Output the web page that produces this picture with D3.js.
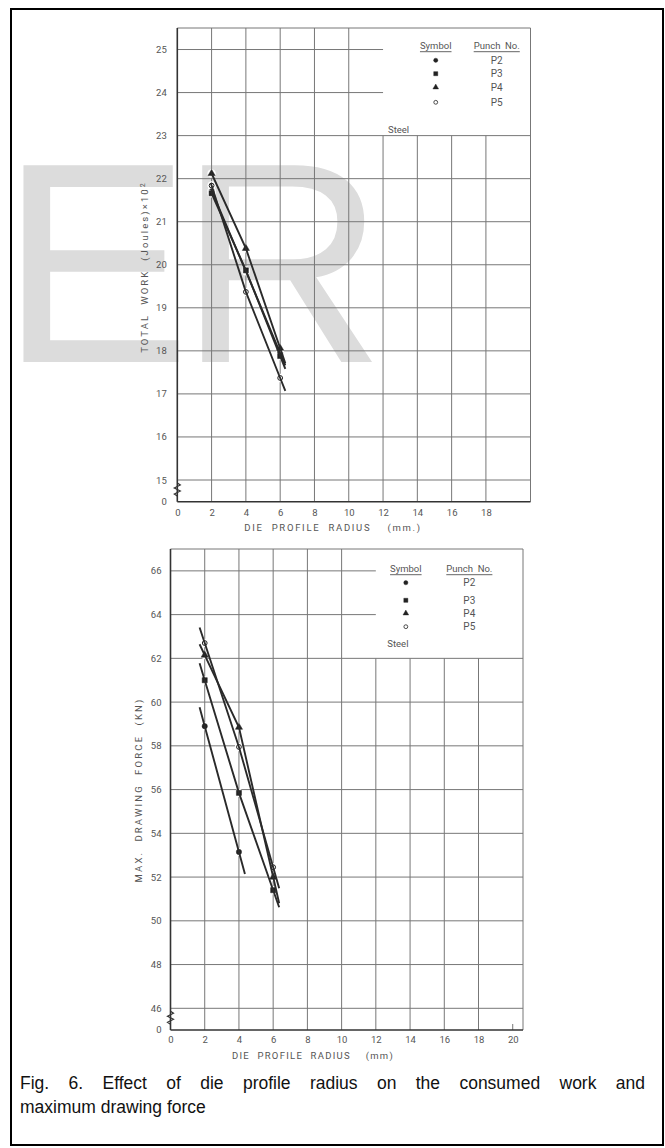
<!DOCTYPE html>
<html>
<head>
<script src="https://d3js.org/d3.v7.min.js"></script>
<style>
body { margin: 0; background: #fff; }
svg text { font-family: Roboto, "Noto Sans", sans-serif; }
</style>
</head>
<body>
<script>
var W = 665, H = 1148;

// die profile radius (mm) at which each punch was tested
var radius = [2, 4, 6];
var punches = ['P2', 'P3', 'P4', 'P5'];
var kinds = ['dot', 'square', 'triangle', 'ring'];

// total work (Joules x 10^2)
var workP2 = [21.72, 19.85, 17.95];
var workP3 = [21.66, 19.87, 17.88];
var workP4 = [22.12, 20.38, 18.06];
var workP5 = [21.84, 19.37, 17.37];

// max drawing force (kN)
var forceP2 = [58.9, 53.15];
var forceP3 = [61.0, 55.85, 51.4];
var forceP4 = [62.15, 58.85, 52.0];
var forceP5 = [62.7, 57.95, 52.45];

var xTicksWork = [0, 2, 4, 6, 8, 10, 12, 14, 16, 18];
var yTicksWork = [15, 16, 17, 18, 19, 20, 21, 22, 23, 24, 25];
var xTicksForce = [0, 2, 4, 6, 8, 10, 12, 14, 16, 18, 20];
var yTicksForce = [46, 48, 50, 52, 54, 56, 58, 60, 62, 64, 66];

var svg = d3.select('body').append('svg')
    .attr('width', W)
    .attr('height', H);

// watermark behind everything
svg.append('text')
    .attr('x', 0)
    .attr('y', 362)
    .style('font-family', '"Liberation Sans", Arial, sans-serif')
    .style('font-size', '286px')
    .style('letter-spacing', '-12px')
    .attr('fill', '#dcdcdc')
    .text('ER');

svg.append('rect')
    .attr('x', 11).attr('y', 9)
    .attr('width', 652).attr('height', 1136)
    .attr('fill', 'none')
    .attr('stroke', '#000')
    .attr('stroke-width', 2);

var charts = [
  {
    left: 177.3, right: 530.5, top: 28, axisY: 501.7,
    yDomain: [15, 25.5], yRange: [480, 28],
    xTicks: xTicksWork, yTicks: yTicksWork, tickAt20: false,
    legendX: 12, legendY: 23,
    series: [workP2, workP3, workP4, workP5],
    xPad: 8, yPad: 10.5,
    ytitle: 'TOTAL  WORK  (Joules)\u00d710', sup: '2', ytitleX: 145, ytitleY: 267, ySpacing: 2.1,
    xtitle: 'DIE  PROFILE  RADIUS    (mm.)', xtitleX: 333, xtitleY: 531, xSpacing: 1.7,
    legend: {sym: 52.7, lab: 113.7, head: 20.7, rows: [32.3, 45.7, 59.3, 74.3], steelX: 5, steelY: 104.5},
    ext: [0.05, 0.3]
  },
  {
    left: 170.5, right: 523, top: 549, axisY: 1030,
    yDomain: [46, 67], yRange: [1008.3, 549],
    xTicks: xTicksForce, yTicks: yTicksForce, tickAt20: true,
    legendX: 12, legendY: 62,
    series: [forceP2, forceP3, forceP4, forceP5],
    xPad: 6.6, yPad: 9,
    ytitle: 'MAX.  DRAWING  FORCE  (KN)', sup: null, ytitleX: 139, ytitleY: 790, ySpacing: 2.2,
    xtitle: 'DIE  PROFILE  RADIUS    (mm)', xtitleX: 313, xtitleY: 1059, xSpacing: 1.3,
    legend: {sym: 30, lab: 93.5, head: 22.7, rows: [33.7, 51.3, 64.3, 77.7], steelX: 11.5, steelY: 97.7},
    ext: [0.3, 0.35]
  }
];

function symbolFor(kind) {
  if (kind === 'square') return d3.symbol().type(d3.symbolSquare).size(26)();
  if (kind === 'triangle') return d3.symbol().type(d3.symbolTriangle).size(22)();
  return d3.symbol().type(d3.symbolCircle).size(kind === 'ring' ? 18 : 22)();
}

function drawMarker(g, kind, px, py, halo) {
  if (halo) {
    g.append('circle').attr('cx', px).attr('cy', py).attr('r', 4.2).attr('fill', '#fff');
  }
  g.append('path')
      .attr('d', symbolFor(kind))
      .attr('transform', 'translate(' + px + ',' + py + ')')
      .attr('fill', kind === 'ring' ? '#fff' : '#222')
      .attr('stroke', '#222')
      .attr('stroke-width', kind === 'ring' ? 1 : 0.5);
}

function drawChart(c) {
  var g = svg.append('g');
  var x = d3.scaleLinear().domain([0, 20.6]).range([c.left, c.right]);
  var y = d3.scaleLinear().domain(c.yDomain).range(c.yRange);

  // grid
  var grid = g.append('g').attr('stroke', '#777').attr('stroke-width', 1);
  c.xTicks.filter(function(t) { return t > 0 && t < 20; }).forEach(function(t) {
    grid.append('line')
        .attr('x1', x(t)).attr('x2', x(t))
        .attr('y1', c.axisY)
        .attr('y2', t >= c.legendX ? y(c.legendY) : c.top);
  });
  c.yTicks.forEach(function(t) {
    grid.append('line')
        .attr('x1', c.left)
        .attr('x2', t > c.legendY ? x(c.legendX) : c.right)
        .attr('y1', y(t)).attr('y2', y(t));
  });
  // frame
  grid.append('line').attr('x1', c.left).attr('x2', c.right).attr('y1', c.top).attr('y2', c.top);
  grid.append('line').attr('x1', c.right).attr('x2', c.right).attr('y1', c.top).attr('y2', c.axisY);
  if (c.tickAt20) {
    grid.append('line').attr('x1', x(20)).attr('x2', x(20)).attr('y1', c.axisY).attr('y2', c.axisY - 6);
  }
  g.append('line').attr('x1', c.left).attr('x2', c.right).attr('y1', c.axisY).attr('y2', c.axisY)
      .attr('stroke', '#333').attr('stroke-width', 1.6);
  g.append('line').attr('x1', c.left).attr('x2', c.left).attr('y1', c.top).attr('y2', c.axisY)
      .attr('stroke', '#333').attr('stroke-width', 1.6);

  // axis break
  var b = y(c.yDomain[0]);
  g.append('path')
      .attr('d', 'M' + c.left + ',' + (b + 3) + 'l3,2l-6,3l6,3l-6,3l3,2')
      .attr('fill', 'none').attr('stroke', '#333').attr('stroke-width', 1.2);

  // tick labels
  var xa = g.append('g')
      .attr('transform', 'translate(0,' + c.axisY + ')')
      .call(d3.axisBottom(x).tickValues(c.xTicks).tickSize(0).tickPadding(c.xPad).tickFormat(d3.format('d')));
  var ya = g.append('g')
      .attr('transform', 'translate(' + c.left + ',0)')
      .call(d3.axisLeft(y).tickValues(c.yTicks).tickSize(0).tickPadding(c.yPad).tickFormat(d3.format('d')));
  [xa, ya].forEach(function(a) {
    a.select('.domain').remove();
    a.selectAll('text').attr('fill', '#555').style('font-size', '9.5px').style('font-family', 'Roboto, sans-serif');
  });
  g.append('text')
      .attr('x', c.left - c.yPad).attr('y', c.axisY).attr('dy', '0.32em')
      .attr('text-anchor', 'end').attr('fill', '#555').style('font-size', '9.5px')
      .text('0');

  // axis titles
  var yt = g.append('text')
      .attr('transform', 'translate(' + c.ytitleX + ',' + c.ytitleY + ') rotate(-90)')
      .attr('text-anchor', 'middle').attr('dy', '0.35em')
      .attr('fill', '#555').style('font-size', '9.5px').style('letter-spacing', c.ySpacing + 'px')
      .style('white-space', 'pre')
      .text(c.ytitle);
  if (c.sup) {
    yt.append('tspan').attr('dy', '-0.45em').style('font-size', '7px').text(c.sup);
  }
  g.append('text')
      .attr('x', c.xtitleX).attr('y', c.xtitleY)
      .attr('text-anchor', 'middle')
      .attr('fill', '#555').style('font-size', '9.5px').style('letter-spacing', c.xSpacing + 'px')
      .style('white-space', 'pre')
      .text(c.xtitle);

  // data lines
  var line = d3.line()
      .x(function(d) { return x(d[0]); })
      .y(function(d) { return y(d[1]); });
  var marks = g.append('g');
  c.series.forEach(function(vals, i) {
    var pts = vals.map(function(v, j) { return [radius[j], v]; });
    var n = pts.length;
    var s0 = (pts[1][1] - pts[0][1]) / (pts[1][0] - pts[0][0]);
    var s1 = (pts[n - 1][1] - pts[n - 2][1]) / (pts[n - 1][0] - pts[n - 2][0]);
    var path = [[pts[0][0] - c.ext[0], pts[0][1] - s0 * c.ext[0]]]
        .concat(pts)
        .concat([[pts[n - 1][0] + c.ext[1], pts[n - 1][1] + s1 * c.ext[1]]]);
    g.append('path')
        .attr('d', line(path))
        .attr('fill', 'none')
        .attr('stroke', '#2a2a2a')
        .attr('stroke-width', 1.9);
  });
  c.series.forEach(function(vals, i) {
    vals.forEach(function(v, j) {
      drawMarker(marks, kinds[i], x(radius[j]), y(v), true);
    });
  });

  // legend
  var L = c.legend, lx = x(c.legendX), ly = c.top;
  var lg = g.append('g').attr('fill', '#555').style('font-size', '9.5px');
  var h1 = lg.append('text').attr('x', lx + L.sym).attr('y', ly + L.head)
      .attr('text-anchor', 'middle').text('Symbol');
  var h2 = lg.append('text').attr('x', lx + L.lab).attr('y', ly + L.head)
      .attr('text-anchor', 'middle').text('Punch  No.').style('white-space', 'pre');
  [h1, h2].forEach(function(h) {
    var bb = h.node().getBBox();
    lg.append('line')
        .attr('x1', bb.x).attr('x2', bb.x + bb.width)
        .attr('y1', ly + L.head + 3).attr('y2', ly + L.head + 3)
        .attr('stroke', '#555').attr('stroke-width', 0.9);
  });
  punches.forEach(function(p, i) {
    drawMarker(lg, kinds[i], lx + L.sym, ly + L.rows[i], false);
    lg.append('text').attr('x', lx + L.lab).attr('y', ly + L.rows[i]).attr('dy', '0.35em')
        .attr('text-anchor', 'middle').style('font-size', '10px').text(p);
  });
  lg.selectAll('path').attr('transform', function() {
    return d3.select(this).attr('transform') + ' scale(0.8)';
  });
  lg.append('text').attr('x', lx + L.steelX).attr('y', ly + L.steelY).text('Steel');
}

charts.forEach(drawChart);

// caption, justified over the box width
var capLines = [
  'Fig. 6. Effect of die profile radius on the consumed work and',
  'maximum drawing force'
];
var capLeft = 20, capRight = 645;
capLines.forEach(function(ln, i) {
  var words = ln.split(' ');
  var cg = svg.append('g');
  var nodes = words.map(function(w) {
    return cg.append('text')
        .attr('y', 1089 + i * 24)
        .style('font-family', '"Liberation Sans", Arial, sans-serif')
        .style('font-size', '17.5px')
        .attr('fill', '#111')
        .text(w);
  });
  var widths = nodes.map(function(t) { return t.node().getComputedTextLength(); });
  var total = d3.sum(widths);
  var gap = i === capLines.length - 1 ? 4.9 : (capRight - capLeft - total) / (words.length - 1);
  var cx = capLeft;
  nodes.forEach(function(t, j) {
    t.attr('x', cx);
    cx += widths[j] + gap;
  });
});
</script>
</body>
</html>
